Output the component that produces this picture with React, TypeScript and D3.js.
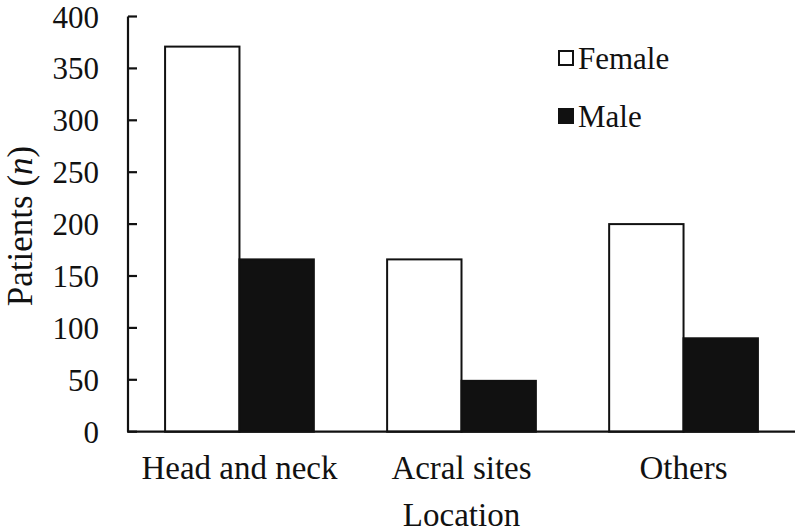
import * as React from 'react';
import * as d3 from 'd3';

const categories = ['Head and neck', 'Acral sites', 'Others'];
const sexes = ['Female', 'Male'];
const femaleValues = [371, 166, 200];
const maleValues = [166, 49, 90];
const yTicks = [0, 50, 100, 150, 200, 250, 300, 350, 400];

const FONT = 'Liberation Serif, Tinos, Times New Roman, DejaVu Serif, serif';

export default function App() {
  const nodeRef = React.useRef<SVGSVGElement | null>(null);

  React.useEffect(() => {
    const width = 800,
      height = 532;
    const svg = d3.select(nodeRef.current);
    svg.selectAll('*').remove();

    const left = 128,
      right = 795,
      top = 16.5,
      bottom = 431.7;

    const x = d3
      .scaleBand<string>()
      .domain(categories)
      .range([left, right])
      .paddingInner(0.33)
      .paddingOuter(0.167);

    const xSub = d3.scaleBand<string>().domain(sexes).range([0, x.bandwidth()]).padding(0);

    const y = d3.scaleLinear().domain([0, 400]).range([bottom, top]);

    const rows = categories.map((c, i) => ({ cat: c, Female: femaleValues[i], Male: maleValues[i] }));

    svg
      .attr('width', width)
      .attr('height', height)
      .attr('font-family', FONT)
      .style('display', 'block');

    // bars
    const groups = svg
      .append('g')
      .selectAll('g')
      .data(rows)
      .enter()
      .append('g')
      .attr('transform', d => 'translate(' + x(d.cat) + ',0)');

    groups
      .selectAll('rect')
      .data(d => sexes.map(s => ({ sex: s, value: (d as any)[s] as number })))
      .enter()
      .append('rect')
      .attr('x', d => xSub(d.sex)!)
      .attr('y', d => y(d.value))
      .attr('width', xSub.bandwidth())
      .attr('height', d => y(0) - y(d.value))
      .attr('fill', d => (d.sex === 'Female' ? '#fff' : '#111'))
      .attr('stroke', '#111')
      .attr('stroke-width', 2);

    // y axis
    const yAxis = svg.append('g');
    yAxis
      .append('line')
      .attr('x1', left)
      .attr('x2', left)
      .attr('y1', y(400))
      .attr('y2', y(0))
      .attr('stroke', '#111')
      .attr('stroke-width', 2.2);
    yAxis
      .selectAll('line.tick')
      .data(yTicks)
      .enter()
      .append('line')
      .attr('class', 'tick')
      .attr('x1', left)
      .attr('x2', left + 9)
      .attr('y1', d => y(d))
      .attr('y2', d => y(d))
      .attr('stroke', '#111')
      .attr('stroke-width', 2.2);
    yAxis
      .selectAll('text')
      .data(yTicks)
      .enter()
      .append('text')
      .attr('x', 99)
      .attr('y', d => y(d) + 11)
      .attr('text-anchor', 'end')
      .attr('font-size', 31)
      .attr('fill', '#111')
      .text(d => d);

    // x axis
    svg
      .append('line')
      .attr('x1', left - 1)
      .attr('x2', right)
      .attr('y1', y(0))
      .attr('y2', y(0))
      .attr('stroke', '#111')
      .attr('stroke-width', 2.2);

    svg
      .append('g')
      .selectAll('text')
      .data(categories)
      .enter()
      .append('text')
      .attr('x', d => x(d)! + x.bandwidth() / 2)
      .attr('y', 479)
      .attr('text-anchor', 'middle')
      .attr('font-size', 33)
      .attr('fill', '#111')
      .text(d => d);

    // axis titles
    svg
      .append('text')
      .attr('x', (left + right) / 2)
      .attr('y', 526)
      .attr('text-anchor', 'middle')
      .attr('font-size', 33)
      .attr('fill', '#111')
      .text('Location');

    const yt = svg
      .append('text')
      .attr('transform', 'translate(32,' + 226 + ') rotate(-90)')
      .attr('text-anchor', 'middle')
      .attr('font-size', 35)
      .attr('fill', '#111');
    yt.append('tspan').text('Patients (');
    yt.append('tspan').attr('font-style', 'italic').text('n');
    yt.append('tspan').text(')');

    // legend
    const legend = svg
      .append('g')
      .selectAll('g')
      .data(sexes)
      .enter()
      .append('g')
      .attr('transform', (d, i) => 'translate(558,' + (50 + i * 58) + ')');
    legend
      .append('rect')
      .attr('x', 1)
      .attr('y', 1)
      .attr('width', 14)
      .attr('height', 14)
      .attr('fill', d => (d === 'Female' ? '#fff' : '#111'))
      .attr('stroke', '#111')
      .attr('stroke-width', 2);
    legend
      .append('text')
      .attr('x', 20)
      .attr('y', 19)
      .attr('font-size', 31)
      .attr('fill', '#111')
      .text(d => d);
  }, []);

  return <svg ref={nodeRef} style={{ position: 'absolute', left: 0, top: 0 }}></svg>;
}
